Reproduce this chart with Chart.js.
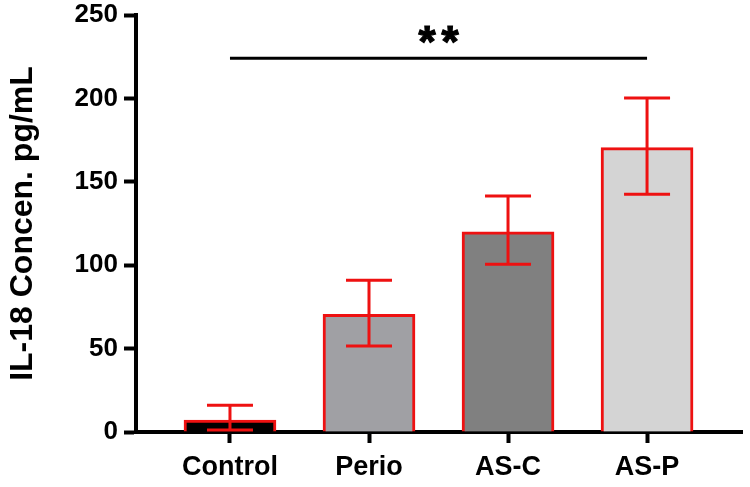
<!DOCTYPE html>
<html>
<head>
<meta charset="utf-8">
<script src="https://cdn.jsdelivr.net/npm/chart.js@4"></script>
<style>
  body { margin: 0; background: #fff; }
</style>
</head>
<body>
<canvas id="il18Chart" width="750" height="487"></canvas>
<script>
const groups = ["Control", "Perio", "AS-C", "AS-P"]
const means = [7.2, 70.5, 120, 170.5]
const errLow = [1.2, 51.5, 100.5, 142.5]
const errHigh = [16, 91, 141.5, 200.3]
const fillColors = ["#000000", "#a0a0a4", "#808080", "#d4d4d4"]
const yTicks = [0, 50, 100, 150, 200, 250]
// significance bracket: Control vs AS-P
const sigFrom = 0
const sigTo = 3
const sigLevel = 224
const sigText = "**"

const FONT = "'Liberation Sans', Arial, sans-serif"

// Barres d'erreur rouges
const errorBarsPlugin = {
  id: "errorBars",
  afterDatasetsDraw(chart) {
    const { ctx, scales } = chart
    ctx.save()
    ctx.strokeStyle = "#ee1111"
    ctx.lineWidth = 3
    means.forEach((m, i) => {
      const x = scales.x.getPixelForValue(i)
      const yLo = scales.y.getPixelForValue(errLow[i])
      const yHi = scales.y.getPixelForValue(errHigh[i])
      const half = 23
      ctx.beginPath()
      ctx.moveTo(x, yLo)
      ctx.lineTo(x, yHi)
      ctx.moveTo(x - half, yHi)
      ctx.lineTo(x + half, yHi)
      ctx.moveTo(x - half, yLo)
      ctx.lineTo(x + half, yLo)
      ctx.stroke()
    })
    ctx.restore()
  }
}

// Trait de significativité + étoiles
const significancePlugin = {
  id: "significance",
  afterDraw(chart) {
    const { ctx, scales } = chart
    const x1 = scales.x.getPixelForValue(sigFrom)
    const x2 = scales.x.getPixelForValue(sigTo)
    const y = scales.y.getPixelForValue(sigLevel)
    ctx.save()
    ctx.strokeStyle = "#000"
    ctx.lineWidth = 3
    ctx.beginPath()
    ctx.moveTo(x1, y)
    ctx.lineTo(x2, y)
    ctx.stroke()
    ctx.fillStyle = "#000"
    ctx.lineWidth = 1.2
    ctx.font = "bold 44px " + FONT
    ctx.textAlign = "center"
    ctx.textBaseline = "middle"
    // étoiles un peu plus espacées que la police
    const mid = (x1 + x2) / 2
    const n = sigText.length
    for (let k = 0; k < n; k++) {
      const sx = mid + (k - (n - 1) / 2) * 23
      ctx.fillText(sigText[k], sx, y - 14)
      ctx.strokeText(sigText[k], sx, y - 14)
    }
    ctx.restore()
  }
}

const ctx = document.getElementById("il18Chart").getContext("2d")
new Chart(ctx, {
  type: "bar",
  data: {
    datasets: [
      {
        data: means.map((v, i) => ({ x: i, y: v })),
        backgroundColor: fillColors,
        borderColor: "#ee1111",
        borderWidth: 3,
        barThickness: 92,
      },
    ],
  },
  options: {
    responsive: false,
    animation: false,
    layout: { padding: { top: 15, right: 8, left: 0, bottom: 0 } },
    plugins: {
      legend: { display: false },
      tooltip: { enabled: false },
    },
    scales: {
      x: {
        type: "linear",
        offset: false,
        min: -0.676,
        max: 3.683,
        afterBuildTicks(scale) {
          scale.ticks = groups.map((g, i) => ({ value: i }))
        },
        afterFit(scale) {
          scale.height = 55
          scale.paddingLeft = 0
          scale.paddingRight = 0
        },
        ticks: {
          callback: (v) => groups[v],
          color: "#000",
          font: { family: FONT, size: 27, weight: "bold" },
          padding: 8,
          maxRotation: 0,
          autoSkip: false,
        },
        grid: {
          offset: false,
          drawOnChartArea: false,
          drawTicks: true,
          tickLength: 11,
          tickWidth: 4,
          color: "#000",
        },
        border: { color: "#000", width: 4 },
      },
      y: {
        min: 0,
        max: 250,
        afterBuildTicks(scale) {
          scale.ticks = yTicks.map((v) => ({ value: v }))
        },
        afterFit(scale) {
          scale.width = 136
          scale.paddingTop = 0
          scale.paddingBottom = 0
        },
        ticks: {
          color: "#000",
          font: { family: FONT, size: 26, weight: "bold" },
          padding: 6,
        },
        grid: {
          drawOnChartArea: false,
          drawTicks: true,
          tickLength: 12,
          tickWidth: 4,
          color: "#000",
        },
        border: { color: "#000", width: 4 },
        title: {
          display: true,
          text: "IL-18 Concen. pg/mL",
          color: "#000",
          font: { family: FONT, size: 32, weight: "bold" },
          padding: { top: 4, bottom: 0 },
        },
      },
    },
  },
  plugins: [errorBarsPlugin, significancePlugin],
})
</script>
</body>
</html>
